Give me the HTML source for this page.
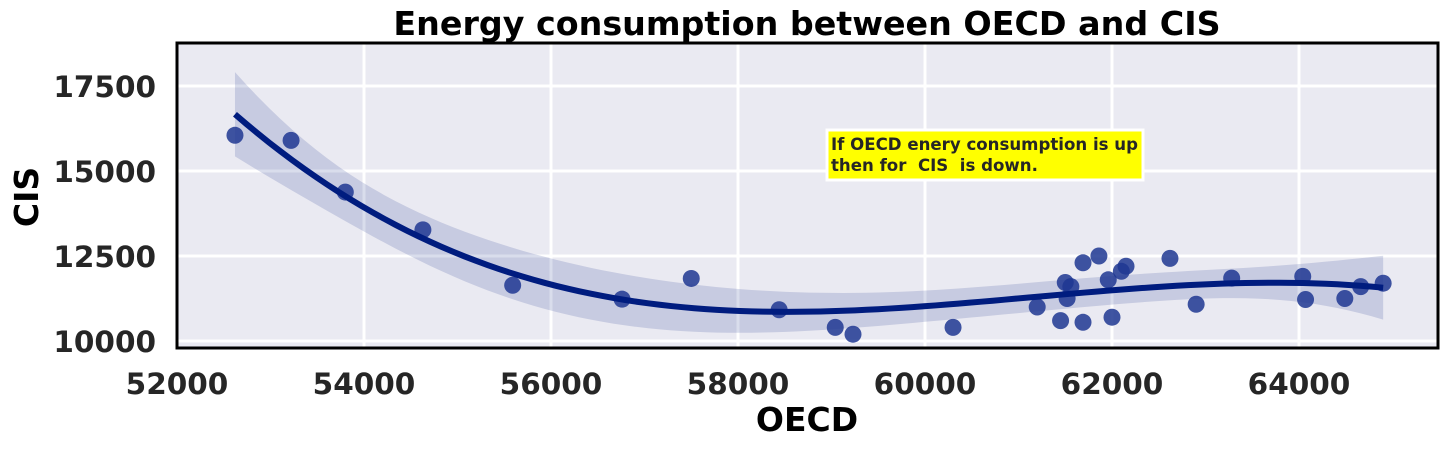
<!DOCTYPE html>
<html><head><meta charset="utf-8">
<style>
body{margin:0;background:#fff;}
svg text{font-family:"DejaVu Sans","Liberation Sans",sans-serif;font-weight:bold;}
</style></head>
<body>
<svg id="c" width="1448" height="447" xmlns="http://www.w3.org/2000/svg"></svg>
<script>
const oecd=[52620,53220,53800,54630,55590,56760,57500,58440,59040,59230,60300,61200,61450,61500,61520,61560,61690,61690,61860,61960,62000,62100,62150,62620,62900,63280,64040,64070,64490,64660,64900];
const cis=[16050,15900,14380,13270,11640,11230,11840,10920,10400,10200,10400,11000,10600,11720,11250,11600,12300,10550,12500,11800,10700,12050,12200,12430,11080,11850,11900,11220,11250,11600,11700];
const xTicks=[52000,54000,56000,58000,60000,62000,64000];
const yTicks=[10000,12500,15000,17500];
const L=177,R=1438,T=43,B=348;
const sx=v=>177+(v-52000)*187/2000;
const sy=v=>341-(v-10000)*85/2500;
const NS="http://www.w3.org/2000/svg";
const svg=document.getElementById('c');
function el(t,a,p){const e=document.createElementNS(NS,t);for(const k in a)e.setAttribute(k,a[k]);(p||svg).appendChild(e);return e;}
const bg=el('rect',{x:L,y:T,width:R-L,height:B-T,fill:'#eaeaf2'});


xTicks.forEach(v=>{const g=el('line',{x1:sx(v),x2:sx(v),y1:T,y2:B,stroke:'#fff','stroke-width':3});


const t=el('text',{x:sx(v),y:394,'text-anchor':'middle','font-size':29.5,fill:'#262626'});t.textContent=v;

});
yTicks.forEach(v=>{const g=el('line',{x1:L,x2:R,y1:sy(v),y2:sy(v),stroke:'#fff','stroke-width':3});


const t=el('text',{x:156,y:sy(v)+11,'text-anchor':'end','font-size':29.5,fill:'#262626'});t.textContent=v;

});
const m=58000,s=4000,n=oecd.length;
const basis=x=>{const u=(x-m)/s;return [1,u,u*u,u*u*u];};
const XtX=[[0,0,0,0],[0,0,0,0],[0,0,0,0],[0,0,0,0]],Xty=[0,0,0,0];
oecd.forEach((x,i)=>{const b=basis(x);for(let a=0;a<4;a++){Xty[a]+=b[a]*cis[i];for(let c=0;c<4;c++)XtX[a][c]+=b[a]*b[c];}});
function inv(M){const N=M.length,A=M.map((r,i)=>r.concat(Array.from({length:N},(_,j)=>i==j?1:0)));
for(let i=0;i<N;i++){let p=i;for(let r=i+1;r<N;r++)if(Math.abs(A[r][i])>Math.abs(A[p][i]))p=r;[A[i],A[p]]=[A[p],A[i]];
const d=A[i][i];for(let j=0;j<2*N;j++)A[i][j]/=d;for(let r=0;r<N;r++)if(r!=i){const f=A[r][i];for(let j=0;j<2*N;j++)A[r][j]-=f*A[i][j];}}
return A.map(r=>r.slice(N));}
const Iv=inv(XtX);const beta=Iv.map(r=>r.reduce((a,v,j)=>a+v*Xty[j],0));
const pred=x=>basis(x).reduce((a,v,j)=>a+v*beta[j],0);
let sse=0;oecd.forEach((x,i)=>{sse+=(cis[i]-pred(x))**2;});const sig=Math.sqrt(sse/(n-4));
const se=x=>{const b=basis(x);let q=0;for(let a=0;a<4;a++)for(let c=0;c<4;c++)q+=b[a]*Iv[a][c]*b[c];return sig*Math.sqrt(q);};
const x0=Math.min(...oecd),x1=Math.max(...oecd);const xs=[];for(let k=0;k<=100;k++)xs.push(x0+(x1-x0)*k/100);
const up=xs.map(x=>sx(x)+','+sy(pred(x)+2.9*se(x)));const lo=xs.map(x=>sx(x)+','+sy(pred(x)-2.9*se(x))).reverse();
const band=el('polygon',{points:up.concat(lo).join(' '),fill:'#001c7f','fill-opacity':0.15});


oecd.forEach((x,i)=>{const c=el('circle',{cx:sx(x),cy:sy(cis[i]),r:8.5,fill:'#1f3792','fill-opacity':0.85});

});
const line=el('polyline',{points:xs.map(x=>sx(x)+','+sy(pred(x))).join(' '),fill:'none',stroke:'#001c7f','stroke-width':6});


const fr=el('rect',{x:L,y:T,width:R-L,height:B-T,fill:'none',stroke:'#000','stroke-width':3});


</script>
<svg style="position:absolute;left:0;top:0" width="1448" height="447" xmlns="http://www.w3.org/2000/svg">
<text x="807" y="35" text-anchor="middle" font-size="33.3" fill="#000">Energy consumption between OECD and CIS</text>
<text x="807" y="431" text-anchor="middle" font-size="33" fill="#000">OECD</text>
<text transform="translate(38,197) rotate(-90)" text-anchor="middle" font-size="33" fill="#000">CIS</text>
<g>
<rect x="827" y="130" width="316" height="50" fill="#ffff00" stroke="#fff" stroke-width="3"/>
<text x="831" y="150" font-size="16.6" fill="#262626">If OECD enery consumption is up</text>
<text x="831" y="171" font-size="16.6" fill="#262626" xml:space="preserve">then for  CIS  is down.</text>
</g>
</svg>
</body></html>
